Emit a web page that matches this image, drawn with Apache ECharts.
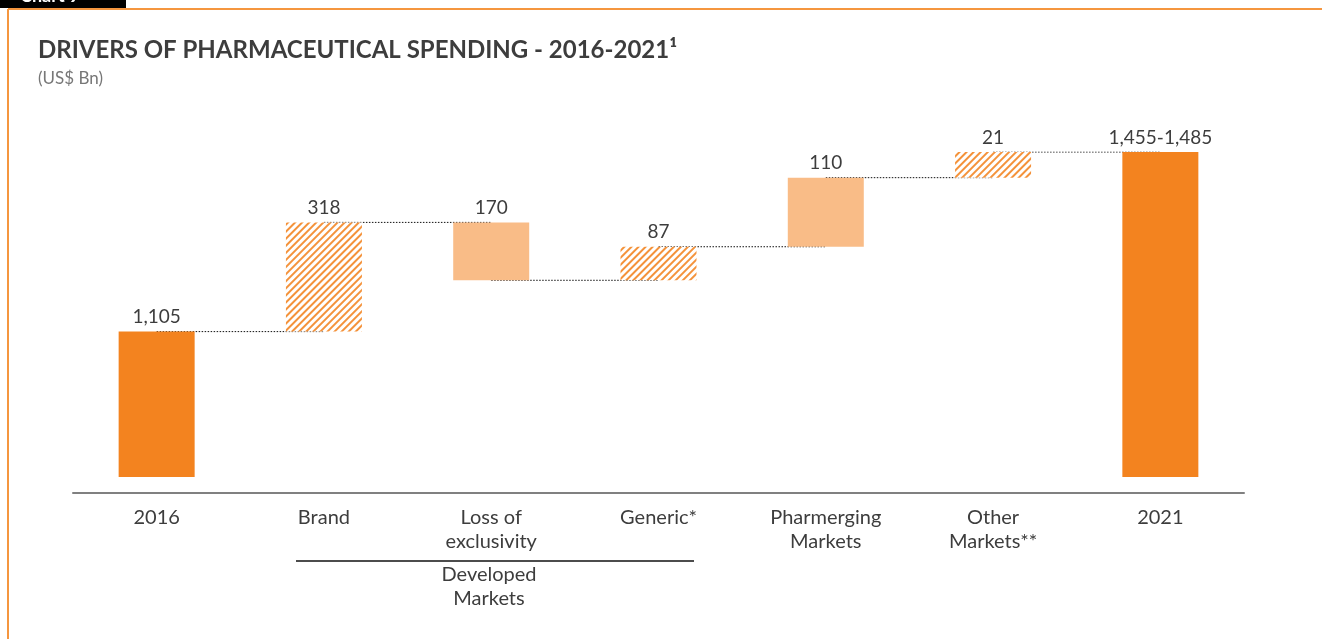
<!DOCTYPE html>
<html>
<head>
<meta charset="utf-8">
<title>Drivers of pharmaceutical spending</title>
<script src="https://cdn.jsdelivr.net/npm/echarts@6/dist/echarts.min.js"></script>
<style>
  html, body { margin: 0; padding: 0; background: #fff; }
  #chart { width: 1322px; height: 639px; }
</style>
</head>
<body>
<div id="chart"></div>
<script>
const categories = ['2016', 'Brand', 'Loss of\nexclusivity', 'Generic*', 'Pharmerging\nMarkets', 'Other\nMarkets**', '2021']
const valueLabels = ['1,105', '318', '170', '87', '110', '21', '1,455-1,485']
// the source draws the steps schematically (not to scale), so these are the
// bottoms and tops, in units where the 2016 bar = 1,105
const barBase = [0, 1105, 1495, 1495, 1750, 2275, 0]
const barTop = [1105, 1935, 1935, 1750, 2275, 2470, 2470]
const barKind = ['total', 'hatch', 'light', 'hatch', 'light', 'hatch', 'total']

const ORANGE = '#F3831F'
const LIGHT = '#F9BC87'
const TEXT = '#3d3d3d'

const styleFor = kind => {
  if (kind === 'total') return { color: ORANGE }
  if (kind === 'light') return { color: LIGHT }
  return {
    color: '#fff',
    decal: {
      symbol: 'rect',
      symbolSize: 1,
      dashArrayX: [1, 0],
      dashArrayY: [1.3, 3],
      rotation: -Math.PI / 4,
      color: '#F4923A'
    }
  }
}

// level shared by two neighbouring bars
const joinLevel = i => {
  const a = [barBase[i], barTop[i]]
  const b = [barBase[i + 1], barTop[i + 1]]
  return a.find(v => b.includes(v))
}

const connectors = categories.slice(0, -1).map((c, i) => ({
  type: 'line',
  z: 1,
  silent: true,
  symbol: 'none',
  lineStyle: { color: '#111', width: 1, type: [1.5, 1.5] },
  data: [[i, joinLevel(i)], [i + 1, joinLevel(i)]]
}))

const chart = echarts.init(document.getElementById('chart'))

const option = {
  backgroundColor: '#fff',
  animation: false,
  title: {
    left: 38,
    top: 38,
    padding: 0,
    text: 'DRIVERS OF PHARMACEUTICAL SPENDING - 2016-2021¹',
    textStyle: { fontFamily: 'Lato', fontWeight: 'bold', fontSize: 24, color: '#3d3d3d' },
    subtext: '(US$ Bn)',
    subtextStyle: { fontFamily: 'Lato', fontSize: 17, color: '#777' },
    itemGap: 8
  },
  grid: { left: 73, right: 78, top: 152, bottom: 162 },
  xAxis: {
    type: 'category',
    data: categories,
    offset: 16,
    axisLine: { onZero: false, lineStyle: { color: '#808080', width: 2 } },
    axisTick: { show: false },
    axisLabel: {
      interval: 0,
      margin: 13,
      fontFamily: 'Lato',
      fontSize: 20,
      lineHeight: 24,
      color: TEXT
    }
  },
  yAxis: {
    type: 'value',
    min: 0,
    max: 2470,
    show: false,
    splitLine: { show: false }
  },
  series: [
    {
      type: 'bar',
      stack: 'w',
      silent: true,
      barWidth: 76,
      itemStyle: { color: 'transparent' },
      data: barBase
    },
    {
      type: 'bar',
      stack: 'w',
      z: 3,
      barWidth: 76,
      label: {
        show: true,
        position: 'top',
        distance: 5,
        fontFamily: 'Lato',
        fontSize: 19,
        color: TEXT,
        formatter: p => valueLabels[p.dataIndex]
      },
      data: barTop.map((top, i) => ({
        value: top - barBase[i],
        itemStyle: styleFor(barKind[i])
      }))
    },
    ...connectors
  ],
  graphic: [
    { type: 'rect', shape: { x: 0, y: 0, width: 126, height: 8 }, style: { fill: '#000' } },
    {
      type: 'text', x: 20, y: -13,
      style: { text: 'Chart 9', fill: '#fff', font: 'bold 18px Lato' }
    },
    { type: 'line', shape: { x1: 8, y1: 9, x2: 1322, y2: 9 }, style: { stroke: '#F5963F', lineWidth: 2 } },
    { type: 'line', shape: { x1: 8, y1: 9, x2: 8, y2: 639 }, style: { stroke: '#F5963F', lineWidth: 2 } },
    { type: 'line', shape: { x1: 296, y1: 561, x2: 694, y2: 561 }, style: { stroke: '#111', lineWidth: 1.5 } },
    {
      type: 'text', x: 489, y: 563,
      style: {
        text: 'Developed\nMarkets',
        align: 'center',
        font: '20px Lato',
        lineHeight: 24,
        fill: TEXT
      }
    }
  ]
}

chart.setOption(option)
</script>
</body>
</html>
